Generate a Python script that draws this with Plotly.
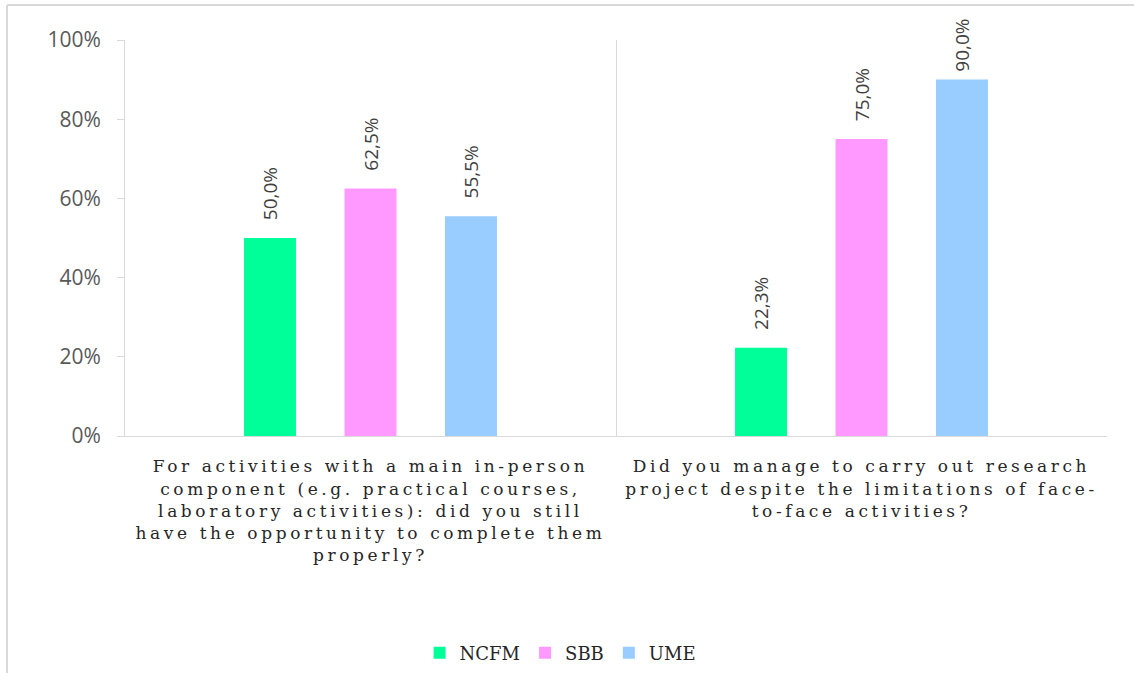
import plotly.graph_objects as go

categories = [
    "For activities with a main in-person<br>component (e.g. practical courses,<br>laboratory activities): did you still<br>have the opportunity to complete them<br>properly?",
    "Did you manage to carry out research<br>project despite the limitations of face-<br>to-face activities?",
]
series_names = ["NCFM", "SBB", "UME"]
ncfm = [0.500, 0.223]
sbb = [0.625, 0.750]
ume = [0.555, 0.900]
colors = ["#00FF99", "#FF99FF", "#99CCFF"]
y_ticks = [0, 0.2, 0.4, 0.6, 0.8, 1.0]
y_tick_labels = ["0%", "20%", "40%", "60%", "80%", "100%"]

def label(v):
    # labels near the top of the chart sit a little closer to their bar
    pad = "\u00a0" if v >= 0.85 else "\u00a0\u00a0\u00a0"
    return pad + f"{v*100:.1f}".replace(".", ",") + "%"

fig = go.Figure()
for name, vals, col in zip(series_names, [ncfm, sbb, ume], colors):
    fig.add_trace(go.Bar(
        name=name, x=categories, y=vals, marker=dict(color=col, line=dict(width=0)),
        text=[label(v) for v in vals], textposition="outside", textangle=-90,
        constraintext="none",
        textfont=dict(family="Open Sans", size=19, color="#404040"),
        cliponaxis=False, hoverinfo="skip",
    ))

fig.update_layout(
    width=1134, height=673,
    margin=dict(l=125, r=27, t=40, b=237, autoexpand=False),
    paper_bgcolor="white", plot_bgcolor="white",
    barmode="group", bargap=0.386, bargroupgap=0.483,
    showlegend=True,
    legend=dict(orientation="h", x=0.30, xanchor="left", y=-0.548, yanchor="middle",
                font=dict(family="DejaVu Serif", size=18, color="#262626"),
                itemclick=False, traceorder="normal"),
    xaxis=dict(type="category", range=[-0.5, 1.5], tickson="boundaries", showgrid=True,
               gridcolor="#D9D9D9", gridwidth=1, ticks="", showline=True, linecolor="#D9D9D9",
               linewidth=1, zeroline=False, ticklabelstandoff=15, automargin=False,
               tickfont=dict(family="DejaVu Serif", size=17, color="#262626")),
    yaxis=dict(range=[0, 1], tickvals=y_ticks, ticktext=y_tick_labels, showgrid=False,
               showline=True, linecolor="#D9D9D9", linewidth=1, ticks="outside", ticklen=7,
               tickcolor="#D9D9D9", zeroline=False, ticklabelstandoff=12, automargin=False,
               tickfont=dict(family="Open Sans", size=21, color="#595959")),
    shapes=[
        dict(type="line", xref="paper", yref="paper", x0=(7-125)/982, x1=(1134-125)/982 + 0.01,
             y0=(436-5)/396, y1=(436-5)/396, line=dict(color="#D9D9D9", width=2)),
        dict(type="line", xref="paper", yref="paper", x0=(7-125)/982, x1=(7-125)/982,
             y0=(436-5)/396, y1=(436-680)/396, line=dict(color="#D9D9D9", width=2)),
    ],
)

post = """
var s = document.createElement('style');
s.textContent = 'body{margin:0;} .xtick text{letter-spacing:3.6px;}';
document.head.appendChild(s);
"""
fig.write_html("out.html", post_script=post, config={"displayModeBar": False})
